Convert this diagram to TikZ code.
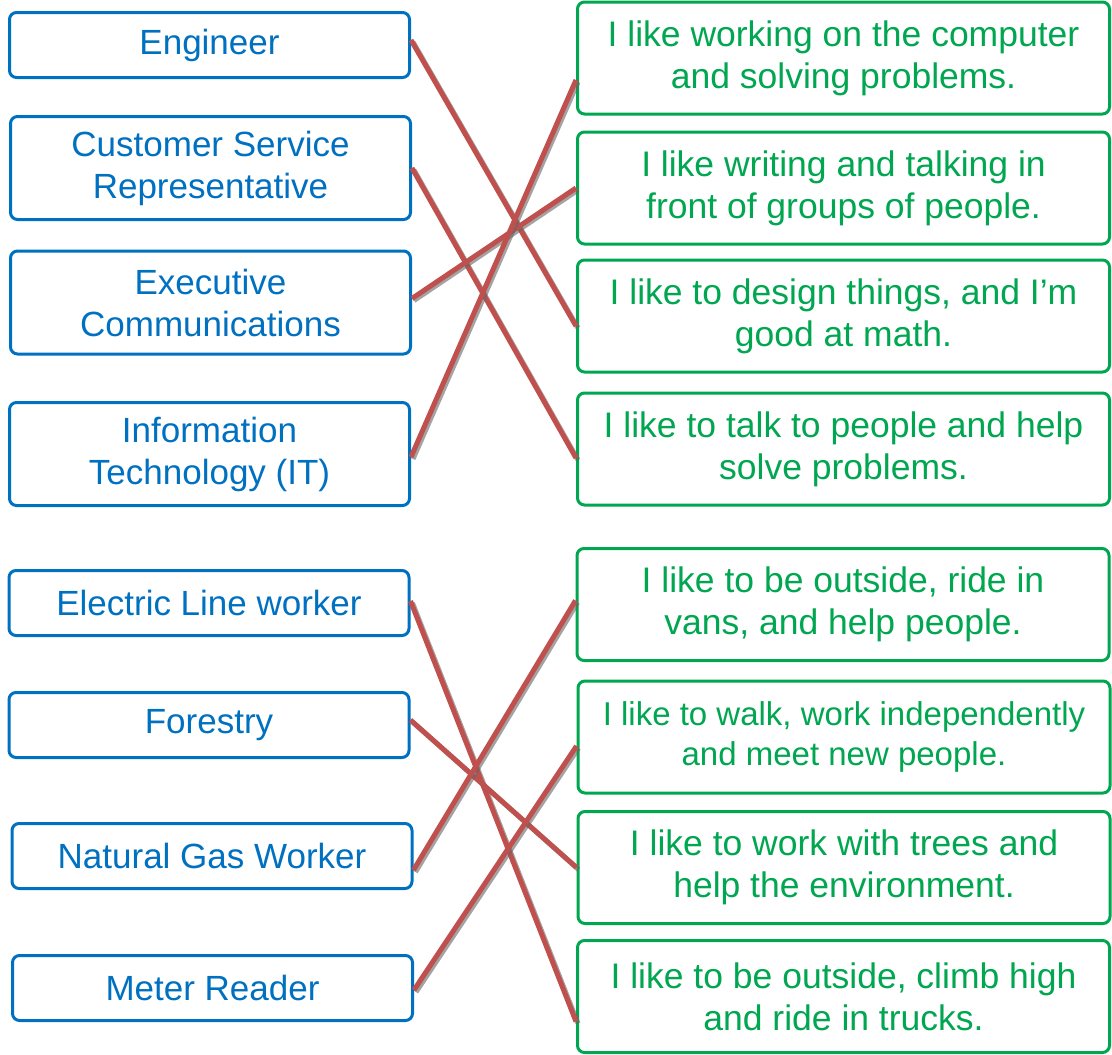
\documentclass[tikz,border=0pt]{standalone}
\usepackage{fontspec}
\setmainfont{Liberation Sans}
\usepackage{tikz}

\definecolor{jobblue}{HTML}{0070C0}
\definecolor{likegreen}{HTML}{00A650}
\definecolor{linered}{HTML}{C0504D}

\tikzset{
	job/.style={draw=jobblue, text=jobblue, line width=3pt, rounded corners=7pt,
		minimum width=400pt, minimum height=65pt, align=center, inner sep=0pt,
		font=\fontsize{35}{42}\selectfont},
	jobtwo/.style={job, minimum height=103pt},
	like/.style={draw=likegreen, text=likegreen, line width=3pt, rounded corners=7pt,
		minimum width=532pt, minimum height=112pt, align=center, inner sep=0pt,
		font=\fontsize{35.5}{42}\selectfont},
	match/.style={line width=5pt, draw=linered,
		preaction={draw=black!60, opacity=0.6, line width=5pt,
			transform canvas={xshift=2pt, yshift=-2pt}}}
}

\begin{document}
\begin{tikzpicture}[x=1pt, y=-1pt]
		\useasboundingbox (0,0) rectangle (1112,1055);
		% jobs, first group
		\node[job] (eng) at (209.5,45) {Engineer};
		\node[jobtwo] (csr) at (210.5,168) {Customer Service \\ Representative};
		\node[jobtwo] (exec) at (210.5,302.5) {Executive \\ Communications};
		\node[jobtwo] (it) at (209.5,454) {Information \\ Technology (IT)};
		% what I like, first group
		\node[like] (likeA) at (843.5,58) {I like working on the computer \\ and solving problems.};
		\node[like] (likeB) at (843.5,188) {I like writing and talking in \\ front of groups of people.};
		\node[like] (likeC) at (843.5,316) {I like to design things, and I’m \\ good at math.};
		\node[like] (likeD) at (843.5,449) {I like to talk to people and help \\ solve problems.};
		% jobs, second group
		\node[job] (elec) at (209,603) {Electric Line worker};
		\node[job] (forest) at (209,725) {Forestry};
		\node[job] (gas) at (212,856) {Natural Gas Worker};
		\node[job] (meter) at (212.5,988) {Meter Reader};
		% what I like, second group
		\node[like] (likeE) at (843,604.5) {I like to be outside, ride in \\ vans, and help people.};
		\node[like, font=\fontsize{33}{40}\selectfont] (likeF) at (844,737) {I like to walk, work independently \\ and meet new people.};
		\node[like] (likeG) at (844,867.5) {I like to work with trees and \\ help the environment.};
		\node[like] (likeH) at (843.5,996.5) {I like to be outside, climb high \\ and ride in trucks.};
		% matching lines
		\draw[match] ([yshift=5pt]eng.east) -- ([yshift=-10pt]likeC.west);
		\draw[match] (csr.east) -- ([yshift=-9pt]likeD.west);
		\draw[match] ([yshift=4pt]exec.east) -- (likeB.west);
		\draw[match] ([yshift=-3pt]it.east) -- ([yshift=-22pt]likeA.west);
		\draw[match] ([yshift=2pt]elec.east) -- ([yshift=-25pt]likeH.west);
		\draw[match] ([yshift=5pt]forest.east) -- (likeG.west);
		\draw[match] ([yshift=-14pt]gas.east) -- ([yshift=4pt]likeE.west);
		\draw[match] ([yshift=-2pt]meter.east) -- ([yshift=-9pt]likeF.west);
\end{tikzpicture}
\end{document}
